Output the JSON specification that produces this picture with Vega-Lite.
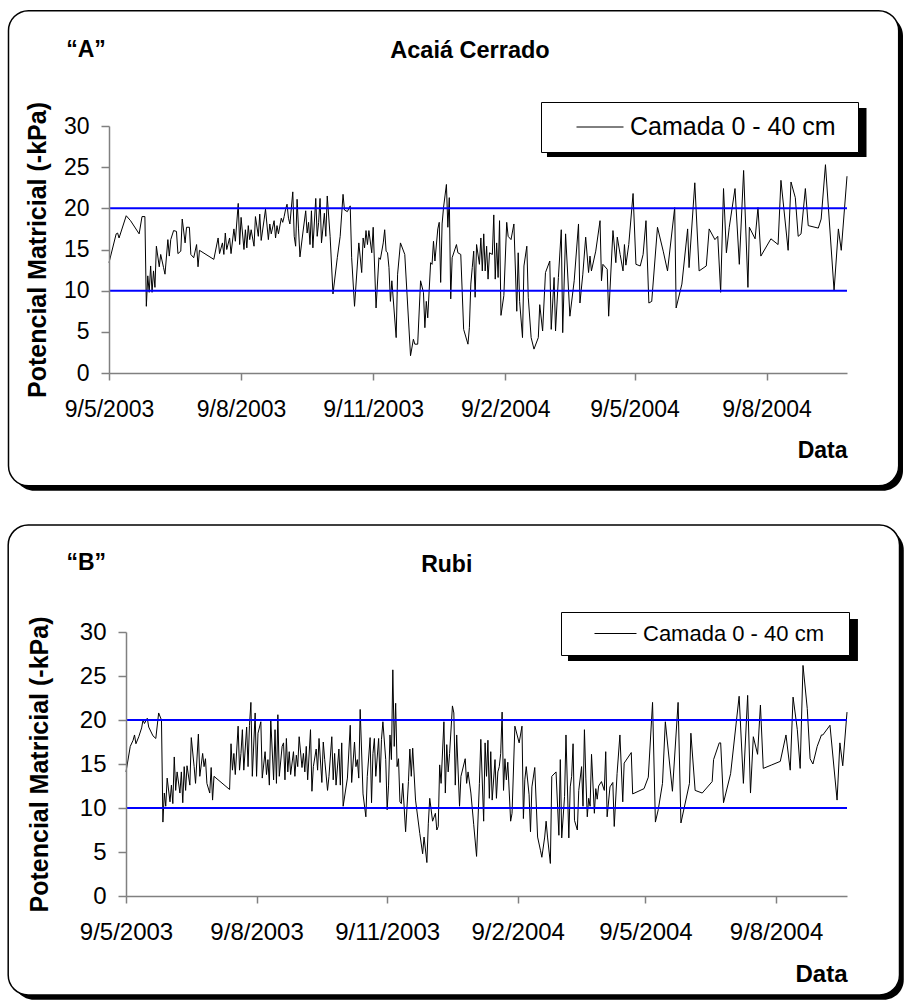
{
"$schema": "https://vega.github.io/schema/vega-lite/v6.json",
"background": "white",
"padding": {"left": 7, "top": 9, "right": 0, "bottom": 0},
"spacing": 33,
"resolve": {"scale": {"x": "independent", "y": "independent", "color": "independent"}, "legend": {"color": "independent"}},
"datasets": {
"acaia": [
{"date":"2003-05-09","value":13.4},{"date":"2003-05-14","value":16.9},{"date":"2003-05-15","value":17.0},{"date":"2003-05-16","value":16.4},{"date":"2003-05-21","value":19.1},{"date":"2003-05-24","value":18.5},{"date":"2003-05-30","value":16.9},{"date":"2003-06-01","value":19.0},{"date":"2003-06-03","value":19.0},{"date":"2003-06-04","value":8.1},{"date":"2003-06-05","value":11.8},{"date":"2003-06-06","value":9.8},{"date":"2003-06-07","value":13.0},{"date":"2003-06-08","value":9.8},{"date":"2003-06-09","value":12.4},{"date":"2003-06-10","value":10.4},{"date":"2003-06-11","value":15.4},{"date":"2003-06-13","value":12.9},{"date":"2003-06-14","value":14.4},{"date":"2003-06-16","value":12.8},{"date":"2003-06-17","value":12.0},{"date":"2003-06-19","value":16.2},{"date":"2003-06-20","value":14.2},{"date":"2003-06-21","value":16.2},{"date":"2003-06-23","value":17.3},{"date":"2003-06-25","value":17.2},{"date":"2003-06-26","value":14.5},{"date":"2003-06-28","value":14.8},{"date":"2003-06-29","value":18.7},{"date":"2003-07-01","value":15.8},{"date":"2003-07-02","value":17.7},{"date":"2003-07-04","value":17.7},{"date":"2003-07-05","value":14.4},{"date":"2003-07-07","value":14.0},{"date":"2003-07-09","value":15.6},{"date":"2003-07-10","value":12.9},{"date":"2003-07-11","value":14.9},{"date":"2003-07-21","value":13.8},{"date":"2003-07-24","value":16.4},{"date":"2003-07-25","value":14.5},{"date":"2003-07-27","value":15.8},{"date":"2003-07-28","value":14.4},{"date":"2003-07-29","value":17.0},{"date":"2003-07-30","value":15.0},{"date":"2003-08-01","value":16.4},{"date":"2003-08-02","value":14.5},{"date":"2003-08-04","value":17.5},{"date":"2003-08-05","value":16.0},{"date":"2003-08-07","value":20.6},{"date":"2003-08-08","value":15.6},{"date":"2003-08-09","value":18.9},{"date":"2003-08-11","value":15.0},{"date":"2003-08-12","value":17.4},{"date":"2003-08-13","value":15.2},{"date":"2003-08-14","value":17.9},{"date":"2003-08-15","value":16.2},{"date":"2003-08-16","value":17.4},{"date":"2003-08-18","value":15.4},{"date":"2003-08-19","value":19.0},{"date":"2003-08-21","value":16.6},{"date":"2003-08-22","value":19.3},{"date":"2003-08-23","value":16.1},{"date":"2003-08-25","value":18.6},{"date":"2003-08-26","value":19.9},{"date":"2003-08-28","value":16.2},{"date":"2003-08-29","value":18.1},{"date":"2003-08-30","value":16.9},{"date":"2003-09-01","value":18.5},{"date":"2003-09-02","value":16.4},{"date":"2003-09-03","value":17.9},{"date":"2003-09-04","value":16.9},{"date":"2003-09-06","value":18.8},{"date":"2003-09-07","value":18.3},{"date":"2003-09-08","value":19.0},{"date":"2003-09-09","value":19.9},{"date":"2003-09-10","value":20.5},{"date":"2003-09-11","value":18.8},{"date":"2003-09-12","value":18.1},{"date":"2003-09-14","value":22.0},{"date":"2003-09-15","value":16.6},{"date":"2003-09-16","value":15.4},{"date":"2003-09-17","value":21.1},{"date":"2003-09-18","value":17.5},{"date":"2003-09-19","value":14.1},{"date":"2003-09-21","value":17.0},{"date":"2003-09-23","value":19.7},{"date":"2003-09-24","value":17.0},{"date":"2003-09-25","value":18.3},{"date":"2003-09-26","value":15.6},{"date":"2003-09-27","value":19.7},{"date":"2003-09-28","value":15.2},{"date":"2003-09-30","value":21.2},{"date":"2003-10-01","value":16.6},{"date":"2003-10-02","value":18.3},{"date":"2003-10-03","value":21.2},{"date":"2003-10-04","value":15.8},{"date":"2003-10-06","value":19.4},{"date":"2003-10-07","value":16.6},{"date":"2003-10-08","value":21.5},{"date":"2003-10-10","value":16.6},{"date":"2003-10-12","value":9.6},{"date":"2003-10-15","value":14.0},{"date":"2003-10-17","value":16.6},{"date":"2003-10-19","value":21.7},{"date":"2003-10-20","value":19.8},{"date":"2003-10-22","value":19.6},{"date":"2003-10-24","value":20.3},{"date":"2003-10-25","value":14.0},{"date":"2003-10-27","value":8.1},{"date":"2003-10-30","value":15.8},{"date":"2003-11-01","value":12.2},{"date":"2003-11-02","value":16.4},{"date":"2003-11-03","value":15.2},{"date":"2003-11-04","value":17.3},{"date":"2003-11-05","value":15.6},{"date":"2003-11-06","value":17.3},{"date":"2003-11-08","value":14.6},{"date":"2003-11-09","value":17.7},{"date":"2003-11-11","value":7.9},{"date":"2003-11-13","value":14.0},{"date":"2003-11-14","value":13.8},{"date":"2003-11-16","value":15.8},{"date":"2003-11-17","value":17.4},{"date":"2003-11-18","value":14.8},{"date":"2003-11-19","value":14.6},{"date":"2003-11-20","value":12.8},{"date":"2003-11-21","value":8.7},{"date":"2003-11-22","value":11.2},{"date":"2003-11-25","value":4.3},{"date":"2003-11-26","value":12.0},{"date":"2003-11-28","value":15.8},{"date":"2003-12-01","value":14.4},{"date":"2003-12-05","value":2.1},{"date":"2003-12-07","value":4.1},{"date":"2003-12-08","value":3.5},{"date":"2003-12-10","value":3.5},{"date":"2003-12-12","value":11.2},{"date":"2003-12-14","value":9.8},{"date":"2003-12-15","value":5.5},{"date":"2003-12-16","value":8.7},{"date":"2003-12-17","value":6.7},{"date":"2003-12-19","value":13.4},{"date":"2003-12-20","value":13.2},{"date":"2003-12-21","value":16.0},{"date":"2003-12-22","value":13.6},{"date":"2003-12-24","value":17.5},{"date":"2003-12-25","value":18.3},{"date":"2003-12-26","value":11.0},{"date":"2003-12-27","value":18.1},{"date":"2003-12-28","value":20.1},{"date":"2003-12-29","value":21.5},{"date":"2003-12-30","value":22.9},{"date":"2003-12-31","value":17.7},{"date":"2004-01-01","value":21.3},{"date":"2004-01-02","value":9.0},{"date":"2004-01-03","value":14.0},{"date":"2004-01-06","value":15.6},{"date":"2004-01-07","value":14.6},{"date":"2004-01-09","value":14.4},{"date":"2004-01-11","value":5.3},{"date":"2004-01-14","value":3.5},{"date":"2004-01-15","value":5.5},{"date":"2004-01-16","value":10.8},{"date":"2004-01-17","value":12.8},{"date":"2004-01-18","value":14.8},{"date":"2004-01-19","value":9.2},{"date":"2004-01-20","value":15.6},{"date":"2004-01-22","value":13.2},{"date":"2004-01-23","value":16.4},{"date":"2004-01-24","value":12.4},{"date":"2004-01-25","value":16.9},{"date":"2004-01-26","value":12.4},{"date":"2004-01-27","value":15.4},{"date":"2004-01-28","value":11.4},{"date":"2004-01-29","value":14.6},{"date":"2004-01-31","value":14.4},{"date":"2004-02-01","value":19.2},{"date":"2004-02-02","value":11.4},{"date":"2004-02-03","value":15.8},{"date":"2004-02-04","value":11.6},{"date":"2004-02-05","value":18.5},{"date":"2004-02-06","value":7.0},{"date":"2004-02-08","value":9.4},{"date":"2004-02-10","value":18.3},{"date":"2004-02-11","value":16.6},{"date":"2004-02-13","value":16.2},{"date":"2004-02-15","value":18.1},{"date":"2004-02-17","value":7.5},{"date":"2004-02-18","value":14.6},{"date":"2004-02-19","value":8.7},{"date":"2004-02-21","value":4.3},{"date":"2004-02-22","value":13.0},{"date":"2004-02-24","value":15.4},{"date":"2004-02-25","value":9.2},{"date":"2004-02-27","value":4.3},{"date":"2004-02-29","value":2.9},{"date":"2004-03-03","value":4.3},{"date":"2004-03-04","value":8.3},{"date":"2004-03-06","value":5.1},{"date":"2004-03-08","value":12.2},{"date":"2004-03-11","value":13.6},{"date":"2004-03-12","value":5.3},{"date":"2004-03-14","value":11.6},{"date":"2004-03-15","value":5.1},{"date":"2004-03-17","value":11.6},{"date":"2004-03-19","value":17.4},{"date":"2004-03-20","value":4.9},{"date":"2004-03-22","value":16.9},{"date":"2004-03-25","value":6.9},{"date":"2004-03-28","value":11.2},{"date":"2004-03-31","value":18.1},{"date":"2004-04-01","value":8.5},{"date":"2004-04-03","value":12.0},{"date":"2004-04-05","value":16.5},{"date":"2004-04-07","value":12.2},{"date":"2004-04-08","value":14.2},{"date":"2004-04-09","value":12.4},{"date":"2004-04-12","value":14.8},{"date":"2004-04-15","value":18.5},{"date":"2004-04-16","value":11.2},{"date":"2004-04-17","value":13.2},{"date":"2004-04-20","value":12.6},{"date":"2004-04-21","value":6.9},{"date":"2004-04-24","value":17.3},{"date":"2004-04-26","value":13.4},{"date":"2004-04-27","value":16.5},{"date":"2004-04-29","value":14.4},{"date":"2004-05-01","value":12.4},{"date":"2004-05-02","value":15.6},{"date":"2004-05-03","value":13.1},{"date":"2004-05-05","value":15.6},{"date":"2004-05-08","value":21.8},{"date":"2004-05-10","value":13.2},{"date":"2004-05-13","value":13.0},{"date":"2004-05-15","value":14.4},{"date":"2004-05-17","value":18.5},{"date":"2004-05-19","value":8.5},{"date":"2004-05-21","value":8.7},{"date":"2004-05-25","value":17.7},{"date":"2004-05-29","value":14.8},{"date":"2004-06-01","value":12.4},{"date":"2004-06-06","value":20.1},{"date":"2004-06-07","value":7.9},{"date":"2004-06-11","value":10.8},{"date":"2004-06-15","value":17.5},{"date":"2004-06-16","value":12.8},{"date":"2004-06-20","value":23.1},{"date":"2004-06-23","value":12.4},{"date":"2004-06-28","value":13.0},{"date":"2004-06-30","value":17.5},{"date":"2004-07-04","value":16.2},{"date":"2004-07-06","value":16.6},{"date":"2004-07-08","value":9.8},{"date":"2004-07-10","value":22.4},{"date":"2004-07-12","value":14.6},{"date":"2004-07-14","value":17.7},{"date":"2004-07-18","value":22.4},{"date":"2004-07-21","value":13.2},{"date":"2004-07-24","value":24.6},{"date":"2004-07-27","value":10.4},{"date":"2004-07-28","value":17.7},{"date":"2004-08-01","value":16.3},{"date":"2004-08-03","value":20.1},{"date":"2004-08-05","value":14.2},{"date":"2004-08-12","value":16.3},{"date":"2004-08-17","value":15.6},{"date":"2004-08-19","value":23.4},{"date":"2004-08-24","value":14.9},{"date":"2004-08-26","value":23.2},{"date":"2004-08-29","value":21.3},{"date":"2004-08-31","value":16.6},{"date":"2004-09-02","value":16.9},{"date":"2004-09-05","value":22.4},{"date":"2004-09-07","value":17.9},{"date":"2004-09-14","value":17.6},{"date":"2004-09-16","value":18.7},{"date":"2004-09-19","value":25.3},{"date":"2004-09-25","value":10.0},{"date":"2004-09-28","value":17.5},{"date":"2004-09-30","value":14.9},{"date":"2004-10-04","value":23.9}
],
"rubi": [
{"date":"2003-05-09","value":14.1},{"date":"2003-05-12","value":17.0},{"date":"2003-05-14","value":17.7},{"date":"2003-05-15","value":18.3},{"date":"2003-05-16","value":17.3},{"date":"2003-05-18","value":18.1},{"date":"2003-05-20","value":19.1},{"date":"2003-05-21","value":20.0},{"date":"2003-05-22","value":19.6},{"date":"2003-05-24","value":20.2},{"date":"2003-05-25","value":19.2},{"date":"2003-05-28","value":18.2},{"date":"2003-05-30","value":17.9},{"date":"2003-06-01","value":20.8},{"date":"2003-06-03","value":20.0},{"date":"2003-06-04","value":8.4},{"date":"2003-06-05","value":11.7},{"date":"2003-06-06","value":10.2},{"date":"2003-06-07","value":13.4},{"date":"2003-06-09","value":10.7},{"date":"2003-06-10","value":12.6},{"date":"2003-06-11","value":10.5},{"date":"2003-06-12","value":15.8},{"date":"2003-06-13","value":12.0},{"date":"2003-06-14","value":14.1},{"date":"2003-06-16","value":11.7},{"date":"2003-06-17","value":14.1},{"date":"2003-06-18","value":10.6},{"date":"2003-06-19","value":14.7},{"date":"2003-06-20","value":12.0},{"date":"2003-06-21","value":14.8},{"date":"2003-06-23","value":12.6},{"date":"2003-06-24","value":18.0},{"date":"2003-06-26","value":14.7},{"date":"2003-06-27","value":12.8},{"date":"2003-06-29","value":18.4},{"date":"2003-06-30","value":13.6},{"date":"2003-07-02","value":16.2},{"date":"2003-07-03","value":14.7},{"date":"2003-07-04","value":15.6},{"date":"2003-07-05","value":12.8},{"date":"2003-07-07","value":11.7},{"date":"2003-07-08","value":14.6},{"date":"2003-07-09","value":10.9},{"date":"2003-07-10","value":13.6},{"date":"2003-07-21","value":12.1},{"date":"2003-07-22","value":17.3},{"date":"2003-07-23","value":14.3},{"date":"2003-07-24","value":16.2},{"date":"2003-07-25","value":13.8},{"date":"2003-07-27","value":19.3},{"date":"2003-07-28","value":14.3},{"date":"2003-07-29","value":16.2},{"date":"2003-07-30","value":18.9},{"date":"2003-07-31","value":14.3},{"date":"2003-08-02","value":19.2},{"date":"2003-08-03","value":14.7},{"date":"2003-08-04","value":19.4},{"date":"2003-08-05","value":22.0},{"date":"2003-08-06","value":13.6},{"date":"2003-08-08","value":20.8},{"date":"2003-08-09","value":13.6},{"date":"2003-08-10","value":18.5},{"date":"2003-08-12","value":19.8},{"date":"2003-08-13","value":13.4},{"date":"2003-08-15","value":16.4},{"date":"2003-08-16","value":13.8},{"date":"2003-08-17","value":15.5},{"date":"2003-08-18","value":12.6},{"date":"2003-08-19","value":20.0},{"date":"2003-08-21","value":13.2},{"date":"2003-08-22","value":18.9},{"date":"2003-08-23","value":12.8},{"date":"2003-08-24","value":20.6},{"date":"2003-08-25","value":13.6},{"date":"2003-08-27","value":17.0},{"date":"2003-08-28","value":17.4},{"date":"2003-08-29","value":13.2},{"date":"2003-08-30","value":17.9},{"date":"2003-08-31","value":14.1},{"date":"2003-09-01","value":16.4},{"date":"2003-09-02","value":13.8},{"date":"2003-09-04","value":16.4},{"date":"2003-09-05","value":13.6},{"date":"2003-09-06","value":16.0},{"date":"2003-09-07","value":14.7},{"date":"2003-09-08","value":18.1},{"date":"2003-09-10","value":14.6},{"date":"2003-09-11","value":16.2},{"date":"2003-09-12","value":14.1},{"date":"2003-09-13","value":17.0},{"date":"2003-09-14","value":13.2},{"date":"2003-09-16","value":18.9},{"date":"2003-09-17","value":11.9},{"date":"2003-09-18","value":14.7},{"date":"2003-09-20","value":16.7},{"date":"2003-09-21","value":14.3},{"date":"2003-09-22","value":17.9},{"date":"2003-09-24","value":12.9},{"date":"2003-09-25","value":17.5},{"date":"2003-09-26","value":15.5},{"date":"2003-09-28","value":12.0},{"date":"2003-09-29","value":13.6},{"date":"2003-10-01","value":18.1},{"date":"2003-10-02","value":13.2},{"date":"2003-10-03","value":16.2},{"date":"2003-10-04","value":12.6},{"date":"2003-10-06","value":16.7},{"date":"2003-10-07","value":12.6},{"date":"2003-10-08","value":17.4},{"date":"2003-10-09","value":10.2},{"date":"2003-10-12","value":13.4},{"date":"2003-10-14","value":19.4},{"date":"2003-10-15","value":12.9},{"date":"2003-10-17","value":17.5},{"date":"2003-10-18","value":14.7},{"date":"2003-10-19","value":15.5},{"date":"2003-10-20","value":13.4},{"date":"2003-10-21","value":21.2},{"date":"2003-10-23","value":11.6},{"date":"2003-10-25","value":9.0},{"date":"2003-10-26","value":13.6},{"date":"2003-10-28","value":18.0},{"date":"2003-10-29","value":10.6},{"date":"2003-10-30","value":16.2},{"date":"2003-10-31","value":17.9},{"date":"2003-11-01","value":13.6},{"date":"2003-11-03","value":17.9},{"date":"2003-11-04","value":12.9},{"date":"2003-11-05","value":17.8},{"date":"2003-11-06","value":19.8},{"date":"2003-11-08","value":15.5},{"date":"2003-11-09","value":9.8},{"date":"2003-11-10","value":12.6},{"date":"2003-11-11","value":18.3},{"date":"2003-11-12","value":15.5},{"date":"2003-11-13","value":25.7},{"date":"2003-11-14","value":17.0},{"date":"2003-11-15","value":21.9},{"date":"2003-11-16","value":14.7},{"date":"2003-11-17","value":15.6},{"date":"2003-11-18","value":10.7},{"date":"2003-11-19","value":10.5},{"date":"2003-11-20","value":12.8},{"date":"2003-11-22","value":7.3},{"date":"2003-11-24","value":13.0},{"date":"2003-11-25","value":16.7},{"date":"2003-11-26","value":13.6},{"date":"2003-11-27","value":16.8},{"date":"2003-11-29","value":10.9},{"date":"2003-12-02","value":7.1},{"date":"2003-12-04","value":4.8},{"date":"2003-12-05","value":6.7},{"date":"2003-12-07","value":3.8},{"date":"2003-12-08","value":8.2},{"date":"2003-12-09","value":11.1},{"date":"2003-12-11","value":8.5},{"date":"2003-12-13","value":9.4},{"date":"2003-12-14","value":7.5},{"date":"2003-12-15","value":7.9},{"date":"2003-12-16","value":14.9},{"date":"2003-12-17","value":12.8},{"date":"2003-12-19","value":19.8},{"date":"2003-12-20","value":11.7},{"date":"2003-12-21","value":17.2},{"date":"2003-12-22","value":14.1},{"date":"2003-12-23","value":16.2},{"date":"2003-12-25","value":21.6},{"date":"2003-12-26","value":20.8},{"date":"2003-12-27","value":12.6},{"date":"2003-12-28","value":18.3},{"date":"2003-12-30","value":10.2},{"date":"2003-12-31","value":13.6},{"date":"2004-01-03","value":15.6},{"date":"2004-01-04","value":12.8},{"date":"2004-01-05","value":14.1},{"date":"2004-01-07","value":11.7},{"date":"2004-01-09","value":8.1},{"date":"2004-01-11","value":4.5},{"date":"2004-01-13","value":12.8},{"date":"2004-01-14","value":17.8},{"date":"2004-01-16","value":8.5},{"date":"2004-01-17","value":17.4},{"date":"2004-01-18","value":13.6},{"date":"2004-01-19","value":17.7},{"date":"2004-01-20","value":11.1},{"date":"2004-01-21","value":16.4},{"date":"2004-01-22","value":10.9},{"date":"2004-01-24","value":15.5},{"date":"2004-01-25","value":11.1},{"date":"2004-01-26","value":14.1},{"date":"2004-01-27","value":14.7},{"date":"2004-01-28","value":16.2},{"date":"2004-01-29","value":20.9},{"date":"2004-01-30","value":12.0},{"date":"2004-01-31","value":15.6},{"date":"2004-02-01","value":13.2},{"date":"2004-02-02","value":15.2},{"date":"2004-02-04","value":8.5},{"date":"2004-02-05","value":9.4},{"date":"2004-02-07","value":19.3},{"date":"2004-02-10","value":17.4},{"date":"2004-02-12","value":19.3},{"date":"2004-02-13","value":8.8},{"date":"2004-02-14","value":13.2},{"date":"2004-02-15","value":14.7},{"date":"2004-02-17","value":11.5},{"date":"2004-02-18","value":7.3},{"date":"2004-02-19","value":12.4},{"date":"2004-02-21","value":14.6},{"date":"2004-02-23","value":6.7},{"date":"2004-02-25","value":5.2},{"date":"2004-02-26","value":4.4},{"date":"2004-02-28","value":6.7},{"date":"2004-02-29","value":8.5},{"date":"2004-03-01","value":6.7},{"date":"2004-03-03","value":3.7},{"date":"2004-03-04","value":13.6},{"date":"2004-03-07","value":14.1},{"date":"2004-03-09","value":6.9},{"date":"2004-03-10","value":15.5},{"date":"2004-03-11","value":6.6},{"date":"2004-03-13","value":11.3},{"date":"2004-03-14","value":18.3},{"date":"2004-03-16","value":6.6},{"date":"2004-03-17","value":12.4},{"date":"2004-03-18","value":13.6},{"date":"2004-03-19","value":17.3},{"date":"2004-03-20","value":8.6},{"date":"2004-03-22","value":7.5},{"date":"2004-03-23","value":12.0},{"date":"2004-03-25","value":14.7},{"date":"2004-03-26","value":10.2},{"date":"2004-03-27","value":18.9},{"date":"2004-03-28","value":13.4},{"date":"2004-03-29","value":9.0},{"date":"2004-03-30","value":11.1},{"date":"2004-03-31","value":10.2},{"date":"2004-04-01","value":16.1},{"date":"2004-04-03","value":9.4},{"date":"2004-04-04","value":12.2},{"date":"2004-04-05","value":11.0},{"date":"2004-04-06","value":12.5},{"date":"2004-04-08","value":13.0},{"date":"2004-04-10","value":12.0},{"date":"2004-04-11","value":16.4},{"date":"2004-04-12","value":9.0},{"date":"2004-04-14","value":12.4},{"date":"2004-04-16","value":12.9},{"date":"2004-04-17","value":7.9},{"date":"2004-04-19","value":13.9},{"date":"2004-04-21","value":18.3},{"date":"2004-04-23","value":10.7},{"date":"2004-04-24","value":15.1},{"date":"2004-04-29","value":16.3},{"date":"2004-04-30","value":11.6},{"date":"2004-05-08","value":12.2},{"date":"2004-05-11","value":13.5},{"date":"2004-05-14","value":22.0},{"date":"2004-05-16","value":8.4},{"date":"2004-05-18","value":9.8},{"date":"2004-05-21","value":12.8},{"date":"2004-05-23","value":19.8},{"date":"2004-05-28","value":11.9},{"date":"2004-06-01","value":22.0},{"date":"2004-06-03","value":8.3},{"date":"2004-06-09","value":12.8},{"date":"2004-06-10","value":18.5},{"date":"2004-06-13","value":12.0},{"date":"2004-06-18","value":11.7},{"date":"2004-06-25","value":13.0},{"date":"2004-06-26","value":15.5},{"date":"2004-06-30","value":17.4},{"date":"2004-07-01","value":17.4},{"date":"2004-07-03","value":10.6},{"date":"2004-07-08","value":13.9},{"date":"2004-07-14","value":22.7},{"date":"2004-07-17","value":12.8},{"date":"2004-07-20","value":22.8},{"date":"2004-07-22","value":11.7},{"date":"2004-07-24","value":18.1},{"date":"2004-07-27","value":16.1},{"date":"2004-07-29","value":21.7},{"date":"2004-07-31","value":14.5},{"date":"2004-08-06","value":14.9},{"date":"2004-08-12","value":15.3},{"date":"2004-08-16","value":18.3},{"date":"2004-08-19","value":14.3},{"date":"2004-08-21","value":22.6},{"date":"2004-08-24","value":18.9},{"date":"2004-08-26","value":14.5},{"date":"2004-08-28","value":26.2},{"date":"2004-08-31","value":21.3},{"date":"2004-09-02","value":15.6},{"date":"2004-09-04","value":15.0},{"date":"2004-09-07","value":17.0},{"date":"2004-09-10","value":18.3},{"date":"2004-09-11","value":18.3},{"date":"2004-09-16","value":19.4},{"date":"2004-09-21","value":10.9},{"date":"2004-09-23","value":17.4},{"date":"2004-09-25","value":14.8},{"date":"2004-09-28","value":20.9}
],
"limits": [{"limit": 10}, {"limit": 20}]
},
"vconcat": [
{
"width": 738, "height": 247,
"layer": [
{"data": {"values": [{}]}, "mark": {"type": "rect", "fill": "black", "cornerRadius": 20, "clip": false},
 "encoding": {"x": {"datum": {"year": 2003, "month": 3, "date": 4, "utc": true}, "type": "temporal"}, "x2": {"datum": {"year": 2004, "month": 11, "date": 12, "utc": true}}, "y": {"datum": 43.4, "type": "quantitative"}, "y2": {"datum": -14.3}}},
{"data": {"values": [{}]}, "mark": {"type": "rect", "fill": "white", "stroke": "black", "strokeWidth": 1.5, "cornerRadius": 20, "clip": false},
 "encoding": {"x": {"datum": {"year": 2003, "month": 2, "date": 28, "utc": true}, "type": "temporal"}, "x2": {"datum": {"year": 2004, "month": 11, "date": 9, "utc": true}}, "y": {"datum": 44.0, "type": "quantitative"}, "y2": {"datum": -13.7}}},
{"data": {"values": [{}]}, "mark": {"type": "rect", "fill": "black", "clip": false},
 "encoding": {"x": {"datum": {"year": 2004, "month": 3, "date": 9, "hours": 1, "utc": true}, "type": "temporal"}, "x2": {"datum": {"year": 2004, "month": 10, "date": 17, "hours": 14, "utc": true}}, "y": {"datum": 32.19, "type": "quantitative"}, "y2": {"datum": 26.23}}},
{"data": {"name": "acaia"}, "mark": {"type": "line", "strokeWidth": 1},
 "encoding": {
  "x": {"field": "date", "type": "temporal",
   "scale": {"type": "utc", "domain": [{"year": 2003, "month": 5, "date": 9, "utc": true}, {"year": 2004, "month": 10, "date": 4, "utc": true}], "nice": false},
   "axis": {"zindex": 2, "values": [{"year": 2003, "month": 5, "date": 9, "utc": true}, {"year": 2003, "month": 8, "date": 9, "utc": true}, {"year": 2003, "month": 11, "date": 9, "utc": true}, {"year": 2004, "month": 2, "date": 9, "utc": true}, {"year": 2004, "month": 5, "date": 9, "utc": true}, {"year": 2004, "month": 8, "date": 9, "utc": true}],
    "labelExpr": "utcFormat(datum.value, '%-d/%-m/%Y')", "title": "Data", "titleAnchor": "end", "titleFontSize": 23, "titleFontWeight": "bold", "labelFontSize": 23, "tickSize": 7, "labelPadding": 18, "titlePadding": 18, "labelFlush": false, "labelOverlap": false}},
  "y": {"field": "value", "type": "quantitative",
   "scale": {"domain": [0, 30], "nice": false, "zero": false},
   "axis": {"zindex": 2, "values": [0, 5, 10, 15, 20, 25, 30], "title": "Potencial Matricial (-kPa)", "titleFontSize": 25, "titleFontWeight": "bold", "labelFontSize": 23, "tickSize": 8, "labelPadding": 12, "titlePadding": 13}},
  "color": {"datum": "Camada 0 - 40 cm", "type": "nominal", "scale": {"range": ["black"]},
   "legend": {"orient": "none", "legendX": 432, "legendY": -24, "title": "\u00a0", "titleOrient": "right", "titlePadding": 10, "titleFontSize": 25, "padding": 12, "labelFontSize": 25, "symbolSize": 625, "symbolType": "M-1.88,0h3.76", "symbolOffset": 34, "labelOffset": 17, "labelLimit": 500}}
 }},
{"data": {"name": "limits"}, "mark": {"type": "rule", "color": "#0000ff", "strokeWidth": 2},
 "encoding": {"y": {"field": "limit", "type": "quantitative"}}},
{"data": {"values": [{}]}, "mark": {"type": "text", "text": "“A”", "fontSize": 23, "fontWeight": "bold", "align": "center", "baseline": "alphabetic", "clip": false},
 "encoding": {"x": {"datum": {"year": 2003, "month": 4, "date": 23, "utc": true}, "type": "temporal"}, "y": {"datum": 38.38, "type": "quantitative"}}},
{"data": {"values": [{}]}, "mark": {"type": "text", "text": "Acaiá Cerrado", "fontSize": 23.5, "fontWeight": "bold", "align": "center", "baseline": "alphabetic", "clip": false},
 "encoding": {"x": {"datum": {"year": 2004, "month": 1, "date": 15, "hours": 10, "utc": true}, "type": "temporal"}, "y": {"datum": 38.26, "type": "quantitative"}}}
]
},
{
"width": 738, "height": 264,
"layer": [
{"data": {"values": [{}]}, "mark": {"type": "rect", "fill": "black", "cornerRadius": 20, "clip": false},
 "encoding": {"x": {"datum": {"year": 2003, "month": 2, "date": 19, "utc": true}, "type": "temporal"}, "x2": {"datum": {"year": 2004, "month": 11, "date": 7, "utc": true}}, "y": {"datum": 41.6, "type": "quantitative"}, "y2": {"datum": -11.8}}},
{"data": {"values": [{}]}, "mark": {"type": "rect", "fill": "white", "stroke": "black", "strokeWidth": 1.5, "cornerRadius": 20, "clip": false},
 "encoding": {"x": {"datum": {"year": 2003, "month": 2, "date": 15, "utc": true}, "type": "temporal"}, "x2": {"datum": {"year": 2004, "month": 11, "date": 4, "utc": true}}, "y": {"datum": 42.16, "type": "quantitative"}, "y2": {"datum": -11.25}}},
{"data": {"values": [{}]}, "mark": {"type": "rect", "fill": "black", "clip": false},
 "encoding": {"x": {"datum": {"year": 2004, "month": 3, "date": 15, "hours": 10, "utc": true}, "type": "temporal"}, "x2": {"datum": {"year": 2004, "month": 10, "date": 5, "hours": 17, "utc": true}}, "y": {"datum": 31.48, "type": "quantitative"}, "y2": {"datum": 26.7}}},
{"data": {"name": "rubi"}, "mark": {"type": "line", "strokeWidth": 1},
 "encoding": {
  "x": {"field": "date", "type": "temporal",
   "scale": {"type": "utc", "domain": [{"year": 2003, "month": 5, "date": 9, "utc": true}, {"year": 2004, "month": 9, "date": 28, "utc": true}], "range": [17, 738], "nice": false},
   "axis": {"zindex": 2, "values": [{"year": 2003, "month": 5, "date": 9, "utc": true}, {"year": 2003, "month": 8, "date": 9, "utc": true}, {"year": 2003, "month": 11, "date": 9, "utc": true}, {"year": 2004, "month": 2, "date": 9, "utc": true}, {"year": 2004, "month": 5, "date": 9, "utc": true}, {"year": 2004, "month": 8, "date": 9, "utc": true}],
    "labelExpr": "utcFormat(datum.value, '%-d/%-m/%Y')", "title": "Data", "titleAnchor": "end", "titleFontSize": 24, "titleFontWeight": "bold", "labelFontSize": 24, "tickSize": 7, "labelPadding": 17, "titlePadding": 18, "labelFlush": false, "labelOverlap": false}},
  "y": {"field": "value", "type": "quantitative",
   "scale": {"domain": [0, 30], "nice": false, "zero": false},
   "axis": {"zindex": 2, "values": [0, 5, 10, 15, 20, 25, 30], "offset": -17, "title": "Potencial Matricial (-kPa)", "titleFontSize": 25, "titleFontWeight": "bold", "labelFontSize": 24, "tickSize": 8, "labelPadding": 12, "titlePadding": 27}},
  "color": {"datum": "Camada 0 - 40 cm", "type": "nominal", "scale": {"range": ["black"]},
   "legend": {"orient": "none", "legendX": 452, "legendY": -20, "title": "\u00a0", "titleOrient": "right", "titlePadding": 15, "titleFontSize": 22, "padding": 10, "labelFontSize": 22, "symbolSize": 484, "symbolType": "M-1.909,0h3.818", "symbolOffset": 33, "labelOffset": 16, "labelLimit": 500}}
 }},
{"data": {"name": "limits"}, "mark": {"type": "rule", "color": "#0000ff", "strokeWidth": 2},
 "encoding": {"y": {"field": "limit", "type": "quantitative"}, "x": {"datum": {"year": 2003, "month": 5, "date": 9, "utc": true}, "type": "temporal"}, "x2": {"datum": {"year": 2004, "month": 9, "date": 28, "utc": true}}}},
{"data": {"values": [{}]}, "mark": {"type": "text", "text": "“B”", "fontSize": 23, "fontWeight": "bold", "align": "center", "baseline": "alphabetic", "clip": false},
 "encoding": {"x": {"datum": {"year": 2003, "month": 4, "date": 11, "utc": true}, "type": "temporal"}, "y": {"datum": 37.0, "type": "quantitative"}}},
{"data": {"values": [{}]}, "mark": {"type": "text", "text": "Rubi", "fontSize": 23, "fontWeight": "bold", "align": "center", "baseline": "alphabetic", "clip": false},
 "encoding": {"x": {"datum": {"year": 2003, "month": 12, "date": 21, "utc": true}, "type": "temporal"}, "y": {"datum": 36.82, "type": "quantitative"}}}
]
}
],
"config": {
 "font": "Liberation Sans",
 "view": {"stroke": null},
 "axis": {"grid": false, "labelFont": "Liberation Sans", "titleFont": "Liberation Sans", "labelColor": "black", "titleColor": "black", "domainColor": "#808080", "tickColor": "#808080", "domainWidth": 1.5, "tickWidth": 1.5},
 "legend": {"strokeColor": "black", "fillColor": "white", "labelFont": "Liberation Sans", "titleFont": "Liberation Sans", "labelColor": "black", "symbolStrokeWidth": 1, "symbolStrokeColor": "black"},
 "text": {"font": "Liberation Sans", "color": "black"}
}
}
